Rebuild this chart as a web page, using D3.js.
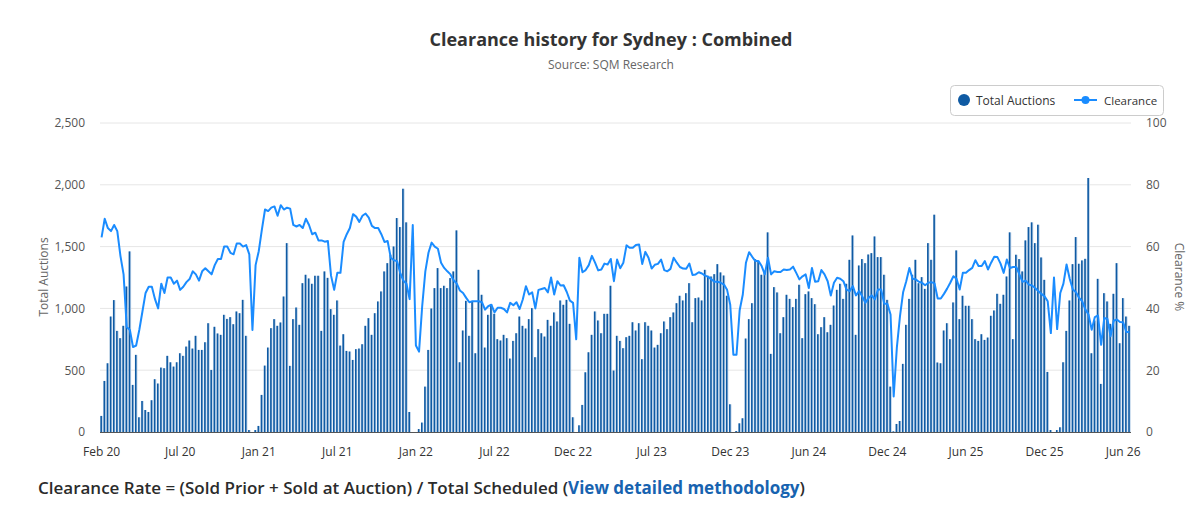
<!DOCTYPE html>
<html>
<head>
<meta charset="utf-8">
<script src="https://cdn.jsdelivr.net/npm/d3@7"></script>
<style>
  html, body { margin: 0; padding: 0; background: #fff; }
  svg { display: block; font-family: "Open Sans", "Noto Sans", sans-serif; }
</style>
</head>
<body>
<svg id="chart" width="1199" height="506"></svg>
<script>
// ---- Data (weekly) ----
const totalAuctions = [
  130,413,556,934,1067,818,759,859,1177,1461,381,624,119,251,178,162,257,427,392,521,516,616,564,529,564,637,
  616,691,740,675,778,664,664,726,880,502,851,797,786,948,915,929,872,975,961,1069,778,16,0,16,49,300,537,683,
  840,913,859,886,1096,1528,535,913,1007,867,1204,1272,1242,1199,1264,1264,818,1299,1247,994,948,1064,699,791,656,651,583,670,
  675,710,859,921,786,961,1056,1137,1299,1366,1434,1501,1731,1658,1968,1696,162,0,0,24,76,367,664,999,1164,1326,1164,
  1183,1164,1245,1299,1631,564,821,1061,778,1056,637,1312,1110,683,948,1034,956,751,740,786,759,594,737,799,934,859,837,913,
  1002,605,832,799,772,907,859,967,894,1064,1029,1069,875,119,0,54,219,483,645,786,975,902,799,956,956,1183,497,778,
  737,678,767,778,888,821,880,589,888,859,821,683,705,799,894,832,929,967,1042,1102,1064,1123,1204,888,1083,1088,1064,
  1312,1264,1258,1277,1358,1291,1266,1102,224,0,8,70,111,756,913,1042,1399,1380,1272,1299,1615,632,1172,1129,799,929,1110,1077,
  1010,1077,1191,759,1115,1137,1083,1034,791,848,929,807,867,1023,1150,1199,1077,1199,1393,1590,786,1347,1399,1366,1436,1447,1582,1415,
  1415,1272,1069,367,5,65,89,551,867,1077,1272,1393,1204,1253,1158,1528,1393,1758,562,556,821,880,751,1048,1469,913,1102,
  1021,1021,913,751,737,791,745,764,940,983,1118,1037,1110,1258,1615,751,1434,1399,1299,1550,1658,1696,1528,1677,1412,1231,486,16,
  0,16,38,564,818,1064,1358,1577,1361,1388,1401,2055,637,902,1239,389,1123,1056,875,1118,1366,718,1083,934,859
];
const clearance = [
  63,69,66,65,67,65,57,51,34,33,27.5,28,33,39,45,47,47,43,40,48,45,50,50,48,49,46,
  47,48.5,49.5,52,51,49,52,53,52,51,54,56,56,60,60,58,57.5,61,61,60,60.5,57.5,33,54,58.5,65.5,72,71.5,
  72.6,73,70,73.4,72,72.6,72.3,67,66.5,67,66,69,67,64,64.5,62,62,61.6,61.8,50.6,46,51.5,51.5,61.5,64,66,70.5,69.7,
  68,70,70.7,69.4,66.7,66,66,64,61.5,61.8,56.4,55.6,55.3,51.5,49,48,43,67,28,26,40.7,52,58,61.3,60,59.3,54.8,
  53.1,52,51,49.1,48,45.8,45,43.4,42,42.3,42.3,42.3,42,39.6,40.7,41.2,38.7,40.2,40.2,39.8,38.7,41.8,41,42,39.8,42.9,47.2,44.5,
  45.2,40,46,46.3,46.6,45.2,50,44.5,48.8,47.4,47.5,45.3,42.5,41.8,30,56.4,51.7,52.4,54,57,54.8,52.3,52.6,54.5,54.2,56,48.8,55.8,
  53,54.8,60.4,59.6,59.6,60.5,60.7,54.4,58.3,56.4,52.9,54.1,54.4,55.8,52.4,52,52.8,56.4,54.8,53.4,52.9,52.8,54.5,50.8,51,51.7,51.3,
  50.6,50.2,49.4,48.6,48.6,48.3,47.7,46,41.2,25,25,39.4,44.5,54.8,58.2,56.7,55.3,55.3,53.7,51,56.4,51,52,51.8,51.8,52.6,52.4,52.6,
  53.5,51.5,49.4,50.4,51,46.6,53.1,48.6,48.8,52.4,51,48.8,44.2,48.3,49.9,49.6,48.8,46.1,45.6,47.2,44.2,45.6,43.9,41.8,43.4,44.2,42.9,46.1,
  46.1,41.5,41.5,38,11.5,27.2,37.4,45.2,48.8,53.1,49.6,49.4,48.6,48.3,47.5,48.3,48.5,48.1,43.2,43.2,44.7,46.4,48.3,50.4,49.6,46.1,51.5,
  51.5,52.4,53.1,55.6,53.7,53.7,55.3,52.6,54.8,56.7,56.6,54.5,51.5,55.8,53.1,53.4,53.4,51,48.6,49,47.7,47.4,46.6,45.6,44.7,43.9,42.3,32,
  50,33.3,45,48,54.2,49.6,46.1,45.2,43.4,42.3,39.6,38,33.1,37.2,37.7,28.2,36.9,36.6,31,36,36.4,35.6,35.5,32.4,32.4
];
const weeks = totalAuctions.map((d, i) => i);
const tickLabels = ["Feb 20","Jul 20","Jan 21","Jul 21","Jan 22","Jul 22","Dec 22","Jul 23","Dec 23","Jun 24","Dec 24","Jun 25","Dec 25","Jun 26"];
const tickEvery = 25;
const leftTicks = [0, 500, 1000, 1500, 2000, 2500];
const rightTicks = [0, 20, 40, 60, 80, 100];

// ---- Layout ----
const svg = d3.select("#chart");
const plot = { left: 100, right: 1131, top: 123, bottom: 432 };
const barColor = "#0f5aa3", barLight = "#bcd3ea", lineColor = "#1a8cff";

const x = d3.scaleBand().domain(weeks).range([plot.left, plot.right]).paddingInner(0).paddingOuter(0);
const yL = d3.scaleLinear().domain([0, 2500]).range([plot.bottom, plot.top]);
const yR = d3.scaleLinear().domain([0, 100]).range([plot.bottom, plot.top]);

// Title
svg.append("text").attr("x", 611).attr("y", 46).attr("text-anchor", "middle")
  .attr("font-size", 18).attr("font-weight", 700).attr("fill", "#333")
  .text("Clearance history for Sydney : Combined");
svg.append("text").attr("x", 611).attr("y", 69).attr("text-anchor", "middle")
  .attr("font-size", 12).attr("fill", "#666").text("Source: SQM Research");

// Grid
const grid = svg.append("g");
leftTicks.forEach(t => {
  if (t === 0) return;
  grid.append("line").attr("x1", plot.left).attr("x2", plot.right)
    .attr("y1", yL(t)).attr("y2", yL(t)).attr("stroke", "#e6e6e6").attr("stroke-width", 1);
});

// Left axis
const axL = svg.append("g").attr("transform", `translate(${plot.left - 12},0)`)
  .call(d3.axisLeft(yL).tickValues(leftTicks).tickSize(0).tickFormat(d3.format(",")));
axL.select(".domain").remove();
axL.selectAll("text").attr("font-size", 12).attr("fill", "#555").attr("font-family", "Open Sans");

// Right axis
const axR = svg.append("g").attr("transform", `translate(${plot.right + 12},0)`)
  .call(d3.axisRight(yR).tickValues(rightTicks).tickSize(0));
axR.select(".domain").remove();
axR.selectAll("text").attr("font-size", 12).attr("fill", "#555").attr("font-family", "Open Sans");

// Axis titles
svg.append("text").attr("transform", `translate(48,277) rotate(-90)`).attr("text-anchor", "middle")
  .attr("font-size", 12).attr("fill", "#666").text("Total Auctions");
svg.append("text").attr("transform", `translate(1175,277) rotate(90)`).attr("text-anchor", "middle")
  .attr("font-size", 12).attr("fill", "#666").text("Clearance %");

// Bars
const bw = x.bandwidth();
const bars = svg.append("g");
bars.selectAll("rect.light").data(weeks).join("rect").attr("class", "light")
  .attr("x", i => x(i) + bw * 0.12).attr("width", bw * 0.78)
  .attr("y", i => yL(totalAuctions[i])).attr("height", i => yL(0) - yL(totalAuctions[i]))
  .attr("fill", barLight);
bars.selectAll("rect.dark").data(weeks).join("rect").attr("class", "dark")
  .attr("x", i => x(i) + bw * 0.12).attr("width", bw * 0.5)
  .attr("y", i => yL(totalAuctions[i])).attr("height", i => yL(0) - yL(totalAuctions[i]))
  .attr("fill", barColor);

// X axis line
svg.append("line").attr("x1", plot.left).attr("x2", plot.right)
  .attr("y1", plot.bottom + 0.5).attr("y2", plot.bottom + 0.5).attr("stroke", "#555").attr("stroke-width", 1);

// X ticks
const xt = svg.append("g");
tickLabels.forEach((lab, k) => {
  const i = k * tickEvery;
  xt.append("text").attr("x", x(i) + bw / 2).attr("y", 456).attr("text-anchor", "middle")
    .attr("font-size", 12).attr("fill", "#333").text(lab);
});

// Clearance line
const line = d3.line().x(i => x(i) + bw / 2).y(i => yR(clearance[i])).curve(d3.curveLinear);
svg.append("path").datum(weeks).attr("d", line).attr("fill", "none")
  .attr("stroke", lineColor).attr("stroke-width", 2).attr("stroke-linejoin", "round");

// Legend
const lg = svg.append("g");
lg.append("rect").attr("x", 950.5).attr("y", 85.5).attr("width", 213).attr("height", 30).attr("rx", 4)
  .attr("fill", "#fff").attr("stroke", "#ccc");
lg.append("circle").attr("cx", 964).attr("cy", 100).attr("r", 6).attr("fill", barColor);
lg.append("text").attr("x", 976).attr("y", 104.5).attr("font-size", 12).attr("fill", "#333").text("Total Auctions");
lg.append("line").attr("x1", 1074).attr("x2", 1097).attr("y1", 100).attr("y2", 100).attr("stroke", lineColor).attr("stroke-width", 2);
lg.append("circle").attr("cx", 1085.5).attr("cy", 100).attr("r", 4).attr("fill", lineColor);
lg.append("text").attr("x", 1104).attr("y", 104.5).attr("font-size", 11.5).attr("fill", "#333").text("Clearance");

// Footer
const ft = svg.append("text").attr("x", 38).attr("y", 494).attr("font-size", 17).attr("font-weight", 600).attr("fill", "#2b2b2b");
ft.append("tspan").text("Clearance Rate = (Sold Prior + Sold at Auction) / Total Scheduled (");
ft.append("tspan").attr("fill", "#1763b0").attr("font-weight", 700).text("View detailed methodology");
ft.append("tspan").text(")");
</script>
</body>
</html>
